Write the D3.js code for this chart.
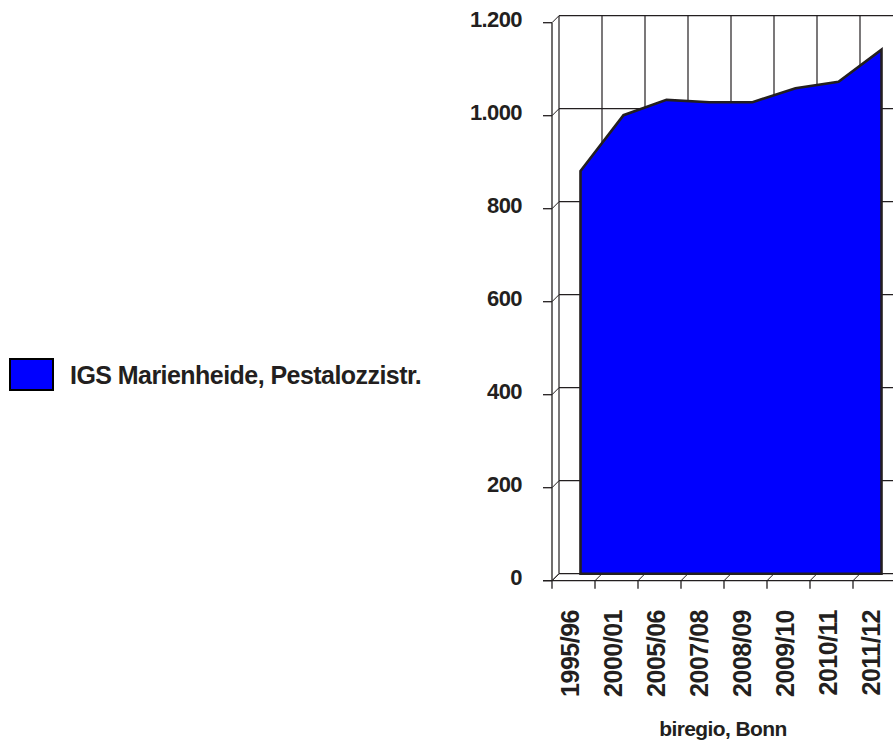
<!DOCTYPE html>
<html><head><meta charset="utf-8">
<script src="https://cdn.jsdelivr.net/npm/d3@7"></script>
<style>
html,body{margin:0;padding:0;background:#fff;}
svg{display:block;}
text{font-family:"Liberation Sans",Arial,sans-serif;font-weight:bold;fill:#231f20;}
</style></head>
<body>
<svg id="chart" width="893" height="745"></svg>
<script>
const categories = ["1995/96","2000/01","2005/06","2007/08","2008/09","2009/10","2010/11","2011/12"];
const values = [866, 986, 1019, 1014, 1014, 1044, 1058, 1127];
const yTicks = [0, 200, 400, 600, 800, 1000, 1200];
const yTickLabels = ["0","200","400","600","800","1.000","1.200"];
const seriesName = "IGS Marienheide, Pestalozzistr.";
const sourceLabel = "biregio, Bonn";

const svg = d3.select("#chart");
const dx = 7, dy = -7;
const x = d3.scaleBand().domain(categories).range([552, 552 + 43 * categories.length]).padding(0);
const y = d3.scaleLinear().domain([0, 1200]).range([580.7, 22.7]);
const x0 = x.range()[0], x1 = x.range()[1];
const boundaries = categories.map(c => x(c)).concat([x1]);
const lineCol = "#231f20";

const g = svg.append("g");
// back wall horizontal gridlines
g.selectAll(".hg").data(yTicks).enter().append("line")
  .attr("x1", x0 + dx).attr("x2", x1 + dx)
  .attr("y1", d => y(d) + dy).attr("y2", d => y(d) + dy)
  .attr("stroke", lineCol).attr("stroke-width", 1.2);
// side wall diagonals
g.selectAll(".sd").data(yTicks).enter().append("line")
  .attr("x1", x0).attr("x2", x0 + dx)
  .attr("y1", d => y(d)).attr("y2", d => y(d) + dy)
  .attr("stroke", lineCol).attr("stroke-width", 1);
// back wall vertical gridlines
g.selectAll(".vg").data(boundaries).enter().append("line")
  .attr("x1", d => d + dx).attr("x2", d => d + dx)
  .attr("y1", y(1200) + dy).attr("y2", y(0) + dy)
  .attr("stroke", lineCol).attr("stroke-width", 1.2);
// floor diagonals
g.selectAll(".fd").data(boundaries).enter().append("line")
  .attr("x1", d => d).attr("x2", d => d + dx)
  .attr("y1", y(0)).attr("y2", y(0) + dy)
  .attr("stroke", lineCol).attr("stroke-width", 1);

// area on back plane
const area = d3.area()
  .x(d => x(d.c) + x.bandwidth() / 2 + dx)
  .y0(y(0) + dy)
  .y1(d => y(d.v) + dy);
const pts = categories.map((c, i) => ({c, v: values[i]}));
g.append("path").datum(pts)
  .attr("d", d => area(d))
  .attr("fill", "#0000ff").attr("stroke", lineCol).attr("stroke-width", 2.6)
  .attr("stroke-linejoin", "miter");

// front axes
g.append("line").attr("x1", x0).attr("x2", x0).attr("y1", y(1200)).attr("y2", y(0))
  .attr("stroke", lineCol).attr("stroke-width", 1.3);
g.append("line").attr("x1", x0 - 9).attr("x2", x1 + 10).attr("y1", y(0)).attr("y2", y(0))
  .attr("stroke", lineCol).attr("stroke-width", 1.3);
// y tick marks
g.selectAll(".yt").data(yTicks).enter().append("line")
  .attr("x1", x0 - 9).attr("x2", x0)
  .attr("y1", d => y(d)).attr("y2", d => y(d))
  .attr("stroke", lineCol).attr("stroke-width", 1.3);
// x tick marks
g.selectAll(".xt").data(boundaries).enter().append("line")
  .attr("x1", d => d).attr("x2", d => d)
  .attr("y1", y(0)).attr("y2", y(0) + 8)
  .attr("stroke", lineCol).attr("stroke-width", 1.3);

// y labels
g.selectAll(".yl").data(yTicks).enter().append("text")
  .attr("x", 522).attr("y", d => y(d) + 4.5)
  .attr("text-anchor", "end")
  .style("font-size", "22px").style("letter-spacing", "-0.6px")
  .text((d, i) => yTickLabels[i]);

// x labels
g.selectAll(".xl").data(categories).enter().append("text")
  .attr("transform", d => `translate(${x(d) + x.bandwidth() / 2 + 5},610) rotate(-90)`)
  .attr("text-anchor", "end")
  .style("font-size", "25px").style("letter-spacing", "-0.5px")
  .text(d => d);

// source label
g.append("text").attr("x", 723).attr("y", 736).attr("text-anchor", "middle")
  .style("font-size", "21px").style("letter-spacing", "-0.6px")
  .text(sourceLabel);

// legend
g.append("rect").attr("x", 10).attr("y", 359).attr("width", 43).attr("height", 31)
  .attr("fill", "#0000ff").attr("stroke", "#000").attr("stroke-width", 2);
g.append("text").attr("x", 70).attr("y", 383.5)
  .style("font-size", "25px").style("letter-spacing", "-0.55px")
  .text(seriesName);
</script>
</body></html>
